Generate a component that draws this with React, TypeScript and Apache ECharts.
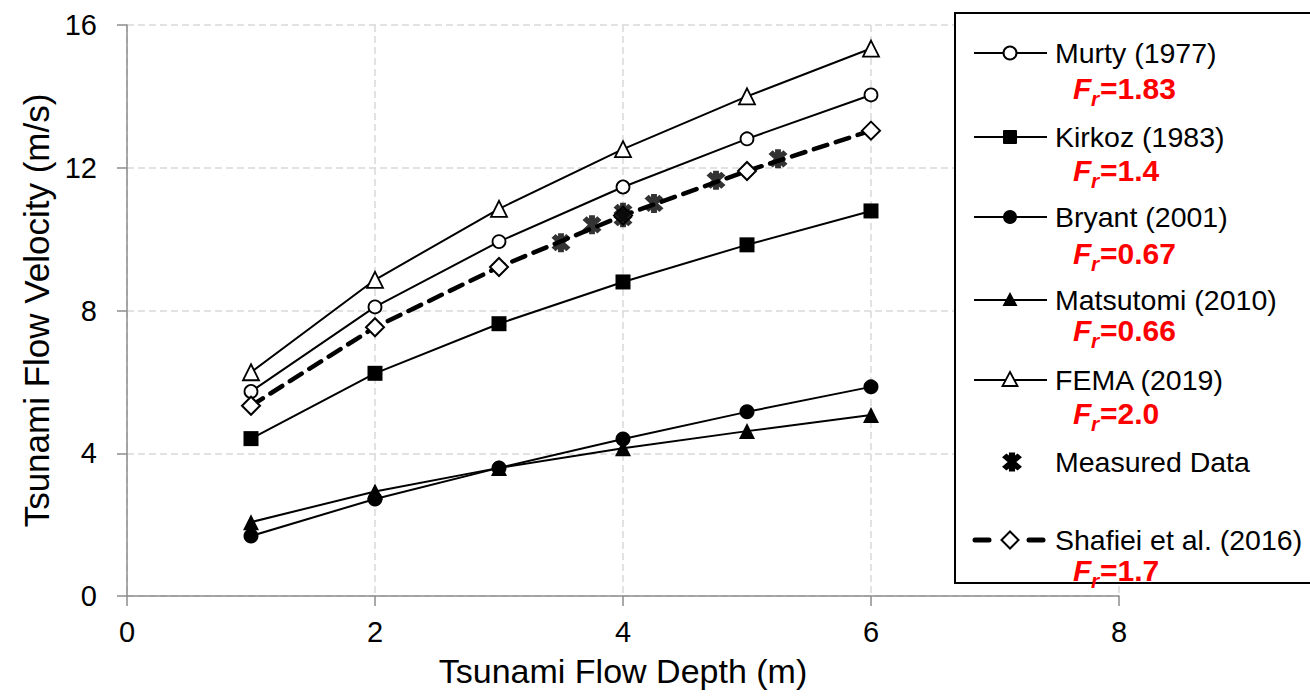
import React, { useEffect, useRef } from "react";
import * as echarts from "echarts";

// ---- data ----
const depth = [1, 2, 3, 4, 5, 6];
const murty = [5.73, 8.1, 9.93, 11.46, 12.81, 14.04];
const kirkoz = [4.41, 6.24, 7.63, 8.8, 9.84, 10.79];
const bryant = [1.68, 2.72, 3.59, 4.4, 5.16, 5.86];
const matsutomi = [2.07, 2.93, 3.59, 4.14, 4.62, 5.07];
const fema = [6.27, 8.86, 10.85, 12.52, 14.0, 15.34];
const shafiei = [5.33, 7.53, 9.22, 10.66, 11.91, 13.04];
const measuredDepth = [3.5, 3.75, 4.0, 4.0, 4.25, 4.75, 5.25];
const measuredVel = [9.9, 10.4, 10.6, 10.75, 11.0, 11.65, 12.25];

const legendNames = [
  "Murty (1977)",
  "Kirkoz (1983)",
  "Bryant (2001)",
  "Matsutomi (2010)",
  "FEMA (2019)",
  "Measured Data",
  "Shafiei et al. (2016)",
];
const froude = ["1.83", "1.4", "0.67", "0.66", "2.0", "", "1.7"];
const xTicks = { min: 0, max: 8, interval: 2 };
const yTicks = { min: 0, max: 16, interval: 4 };

// ---- layout ----
const FONT = "'Liberation Sans', Arial, Helvetica, sans-serif";
const legendY = [53, 137, 217, 300, 380, 462, 540];
const froudeY = [88, 170, 253, 330, 413, 0, 570];

// asterisk outline (X plus vertical bar), single non-overlapping contour
const STAR =
  "M0.905 0.509 L0.509 0.905 L0.28 0.676 L0.28 1 L-0.28 1 L-0.28 0.676 L-0.509 0.905 L-0.905 0.509 L-0.396 0 L-0.905 -0.509 L-0.509 -0.905 L-0.28 -0.676 L-0.28 -1 L0.28 -1 L0.28 -0.676 L0.509 -0.905 L0.905 -0.509 L0.396 0 Z";

echarts.graphic.registerShape("asterisk", echarts.graphic.extendPath(STAR, {}) as any);

const pairs = (xs: number[], ys: number[]) => xs.map((x, i) => [x, ys[i]]);

type MarkerKind = "openCircle" | "square" | "dot" | "triangle" | "openTriangle" | "star" | "openDiamond";
const markerKinds: MarkerKind[] = ["openCircle", "square", "dot", "triangle", "openTriangle", "star", "openDiamond"];

function legendMarker(kind: MarkerKind, cx: number, cy: number): any {
  const z = 102;
  switch (kind) {
    case "openCircle":
      return { type: "circle", z, shape: { cx, cy, r: 6.5 }, style: { fill: "#fff", stroke: "#000", lineWidth: 2 } };
    case "dot":
      return { type: "circle", z, shape: { cx, cy, r: 7 }, style: { fill: "#000" } };
    case "square":
      return { type: "rect", z, shape: { x: cx - 7, y: cy - 7, width: 14, height: 14, r: 1 }, style: { fill: "#000" } };
    case "triangle":
      return { type: "polygon", z, shape: { points: [[cx, cy - 8], [cx + 7.5, cy + 6], [cx - 7.5, cy + 6]] }, style: { fill: "#000" } };
    case "openTriangle":
      return { type: "polygon", z, shape: { points: [[cx, cy - 8], [cx + 7.5, cy + 6], [cx - 7.5, cy + 6]] }, style: { fill: "#fff", stroke: "#000", lineWidth: 1.8 } };
    case "openDiamond":
      return { type: "polygon", z, shape: { points: [[cx, cy - 8.5], [cx + 8.5, cy], [cx, cy + 8.5], [cx - 8.5, cy]] }, style: { fill: "#fff", stroke: "#000", lineWidth: 2 } };
    case "star":
      return { type: "asterisk", z, x: cx, y: cy, scaleX: 11, scaleY: 9.5, style: { fill: "#000" } };
  }
}

function buildLegend(): any[] {
  const els: any[] = [];
  els.push({
    type: "rect",
    z: 100,
    shape: { x: 955, y: 13, width: 400, height: 570 },
    style: { fill: "#fff", stroke: "#000", lineWidth: 2 },
  });
  legendNames.forEach((name, i) => {
    const y = legendY[i];
    const kind = markerKinds[i];
    if (kind === "openDiamond") {
      els.push({ type: "line", z: 101, shape: { x1: 975, y1: y, x2: 989, y2: y }, style: { stroke: "#000", lineWidth: 5, lineCap: "round" } });
      els.push({ type: "line", z: 101, shape: { x1: 1029, y1: y, x2: 1043, y2: y }, style: { stroke: "#000", lineWidth: 5, lineCap: "round" } });
    } else if (kind !== "star") {
      els.push({ type: "line", z: 101, shape: { x1: 974, y1: y, x2: 1047, y2: y }, style: { stroke: "#000", lineWidth: 2 } });
    }
    els.push(legendMarker(kind, kind === "star" ? 1012 : 1010, y));
    els.push({
      type: "text",
      z: 102,
      x: 1055,
      y,
      style: { text: name, fontSize: 28.5, fontFamily: FONT, fill: "#000", align: "left", verticalAlign: "middle" },
    });
    if (froude[i]) {
      const fy = froudeY[i];
      els.push({
        type: "text", z: 103, x: 1073, y: fy,
        style: { text: "F", fontSize: 30, fontStyle: "italic", fontWeight: "bold", fontFamily: FONT, fill: "#ff0000", align: "left", verticalAlign: "middle" },
      });
      els.push({
        type: "text", z: 103, x: 1091, y: fy + 10,
        style: { text: "r", fontSize: 21, fontStyle: "italic", fontWeight: "bold", fontFamily: FONT, fill: "#ff0000", align: "left", verticalAlign: "middle" },
      });
      els.push({
        type: "text", z: 103, x: 1100, y: fy,
        style: { text: "=" + froude[i], fontSize: 30, fontWeight: "bold", fontFamily: FONT, fill: "#ff0000", align: "left", verticalAlign: "middle" },
      });
    }
  });
  return els;
}

const solid = { color: "#000", width: 2 };
const openItem = { color: "#fff", borderColor: "#000", borderWidth: 1.8 };
const filledItem = { color: "#000", borderColor: "#000", borderWidth: 0 };

const axisCommon = {
  axisLine: { show: true, onZero: false, lineStyle: { color: "#8c8c8c", width: 1.5 } },
  axisTick: { show: true, inside: false, length: 10, lineStyle: { color: "#8c8c8c", width: 1.5 } },
  splitLine: { show: true, lineStyle: { color: "#d9d9d9", type: [7, 4], width: 1.5 } },
  nameLocation: "middle",
  nameTextStyle: { fontSize: 34, color: "#000", fontFamily: FONT },
};

const option: any = {
  animation: false,
  backgroundColor: "#fff",
  textStyle: { fontFamily: FONT },
  grid: { left: 127, right: 191, top: 25, bottom: 101, containLabel: false },
  xAxis: {
    type: "value",
    ...xTicks,
    ...axisCommon,
    name: "Tsunami Flow Depth (m)",
    nameGap: 58,
    axisLabel: { fontSize: 29, color: "#000", margin: 21, fontFamily: FONT },
  },
  yAxis: {
    type: "value",
    ...yTicks,
    ...axisCommon,
    name: "Tsunami Flow Velocity (m/s)",
    nameGap: 72,
    nameTextStyle: { fontSize: 35, color: "#000", fontFamily: FONT },
    axisLabel: { fontSize: 29, color: "#000", margin: 30, fontFamily: FONT },
  },
  series: [
    { name: legendNames[0], type: "line", data: pairs(depth, murty), symbol: "circle", symbolSize: 13, lineStyle: solid, itemStyle: openItem, z: 3 },
    { name: legendNames[1], type: "line", data: pairs(depth, kirkoz), symbol: "rect", symbolSize: 15, lineStyle: solid, itemStyle: filledItem, z: 3 },
    { name: legendNames[2], type: "line", data: pairs(depth, bryant), symbol: "circle", symbolSize: 15, lineStyle: solid, itemStyle: filledItem, z: 3 },
    { name: legendNames[3], type: "line", data: pairs(depth, matsutomi), symbol: "triangle", symbolSize: 16, lineStyle: solid, itemStyle: filledItem, z: 3 },
    { name: legendNames[4], type: "line", data: pairs(depth, fema), symbol: "triangle", symbolSize: 16, lineStyle: solid, itemStyle: openItem, z: 3 },
    {
      name: legendNames[6], type: "line", data: pairs(depth, shafiei), symbol: "diamond", symbolSize: 18,
      lineStyle: { color: "#000", width: 4.5, type: [14, 9], cap: "round" }, itemStyle: { color: "#fff", borderColor: "#000", borderWidth: 2 }, z: 4,
    },
    {
      name: legendNames[5], type: "scatter", data: pairs(measuredDepth, measuredVel), symbol: "path://" + STAR, symbolSize: [19, 19],
      itemStyle: { color: "#000" }, z: 5,
    },
  ],
  graphic: { elements: buildLegend() },
};

export default function App() {
  const ref = useRef<HTMLDivElement>(null);
  useEffect(() => {
    document.body.style.margin = "0";
    const chart = echarts.init(ref.current!, null, { renderer: "svg" });
    chart.setOption(option);
    return () => chart.dispose();
  }, []);
  return <div ref={ref} style={{ width: 1310, height: 697 }} />;
}
